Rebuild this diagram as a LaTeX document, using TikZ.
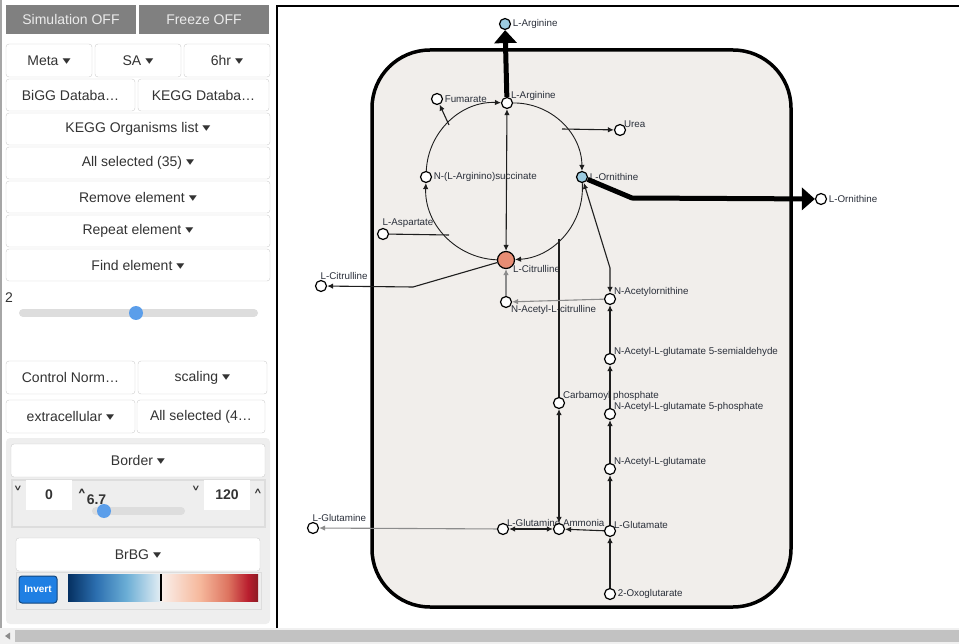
\documentclass[tikz,border=0pt]{standalone}
\usepackage{graphicx}
\usepackage{fontspec}
\setmainfont{Liberation Sans}
\newfontfamily\glyphfont{DejaVu Sans}
\usetikzlibrary{shapes,arrows.meta}
\definecolor{cellbg}{HTML}{F1EEEB}
\definecolor{btnline}{HTML}{CCCCCC}
\definecolor{btntext}{HTML}{333333}
\definecolor{panelbg}{HTML}{EEEEEE}
\definecolor{track}{HTML}{DDDDDD}
\definecolor{thumb}{HTML}{5B9EEA}
\definecolor{lblue}{HTML}{9CCBE0}
\definecolor{citfill}{HTML}{E88D74}
\definecolor{invblue}{HTML}{1F7FE3}
\definecolor{lbltext}{HTML}{2A2F3A}
\definecolor{edge}{HTML}{1E1E1E}
\definecolor{cba}{HTML}{053061}
\definecolor{cbb}{HTML}{2C6FB0}
\definecolor{cbc}{HTML}{6AADD5}
\definecolor{cbd}{HTML}{E4EEF4}
\definecolor{cbe}{HTML}{FAF0EB}
\definecolor{cbf}{HTML}{F6B89C}
\definecolor{cbg}{HTML}{DD7460}
\definecolor{cbh}{HTML}{B91E2E}
\definecolor{cbi}{HTML}{8C1C24}
\newcommand{\caret}{\hspace{4pt}\raisebox{1pt}{\scalebox{1.15}[0.8]{\glyphfont\fontsize{14}{14}\selectfont ▾}}}
\newcommand{\btnfont}{\fontsize{14}{16}\selectfont}
\newcommand{\chev}[1]{\scalebox{1.6}{\glyphfont\fontsize{12}{12}\selectfont #1}}
\tikzset{
  btn/.style={draw=btnline, fill=white, rounded corners=3pt, text=btntext, font=\btnfont, inner sep=0pt},
  graybtn/.style={fill=black!50, text=white!92!black, font=\btnfont, inner sep=0pt},
  met/.style={circle, draw, line width=1.2pt, fill=white, minimum size=11pt, inner sep=0pt},
  lbl/.style={font=\fontsize{9.8}{11}\selectfont, text=lbltext, inner sep=0.5pt},
  lr/.style={label={[lbl, label distance=1pt]right:#1}},
  lar/.style={label={[lbl, anchor=south west, xshift=-1pt, yshift=-3pt]north east:#1}},
  lbr/.style={label={[lbl, anchor=north west, yshift=2pt]south east:#1}},
  la/.style={label={[lbl, anchor=south west, xshift=-1pt]north:#1}},
  rx/.style={line width=1.1pt, draw=edge},
  cyc/.style={line width=0.9pt, draw=edge},
  faint/.style={line width=1.1pt, draw=black!45},
  bigarr/.style={line width=5pt, -{Triangle[length=13pt,width=22pt]}}
}
\begin{document}
\begin{tikzpicture}[x=1pt, y=-1pt, >={Latex[length=6pt,width=5.5pt]}]
\useasboundingbox (0,0) rectangle (959,644);
\fill[black!35] (0,0) rectangle (1.5,628);
\node[graybtn, minimum width=130, minimum height=29] (sim) at (71,19.5) {Simulation OFF};
\node[graybtn, minimum width=130, minimum height=29] (frz) at (204,19.5) {Freeze OFF};
\node[btn, minimum width=86, minimum height=33] (meta) at (49,60.5) {Meta\caret};
\node[btn, minimum width=86, minimum height=33] (sa) at (138,60.5) {SA\caret};
\node[btn, minimum width=86, minimum height=33] (hr) at (227,60.5) {6hr\caret};
\node[btn, minimum width=129, minimum height=32] (bigg) at (70.5,95) {BiGG Databa…};
\node[btn, minimum width=131, minimum height=32] (kegg) at (203.5,95) {KEGG Databa…};
\node[btn, minimum width=264, minimum height=32] (org) at (138,129) {KEGG Organisms list\caret};
\node[btn, minimum width=264, minimum height=32] (sel) at (138,163) {All selected (35)\caret};
\node[btn, minimum width=264, minimum height=32] (rem) at (138,197) {Remove element\caret};
\node[btn, minimum width=264, minimum height=32] (rep) at (138,231) {Repeat element\caret};
\node[btn, minimum width=264, minimum height=32] (find) at (138,265) {Find element\caret};
\node[font=\btnfont, text=btntext, inner sep=0pt] (lvl) at (9,298) {2};
\draw[track, line width=8pt, line cap=round] (23,313) -- (254,313);
\fill[thumb] (136,313) circle (7pt);
\node[btn, minimum width=129, minimum height=33] (ctrl) at (70.5,377.5) {Control Norm…};
\node[btn, minimum width=129, minimum height=33] (scal) at (202.5,377.5) {scaling\caret};
\node[btn, minimum width=129, minimum height=33] (extra) at (70.5,416.5) {extracellular\caret};
\node[btn, minimum width=128, minimum height=33] (sel2) at (201,416.5) {All selected (4…};
\fill[panelbg, rounded corners=4pt] (6,438) rectangle (270,624);
\node[btn, minimum width=254, minimum height=33] (border) at (138,460.5) {Border\caret};
\draw[draw=track, fill=panelbg, line width=1.5pt] (12,480) rectangle (265,527);
\node[fill=white, minimum width=46, minimum height=30, inner sep=0pt, font=\btnfont\bfseries, text=btntext] (lo) at (49,495) {0};
\node[fill=white, minimum width=46, minimum height=30, inner sep=0pt, font=\btnfont\bfseries, text=btntext] (hi) at (227,495) {120};
\node[text=btntext, inner sep=0pt] (lodn) at (18,494) {\chev{˅}};
\node[text=btntext, inner sep=0pt] (hidn) at (196,494) {\chev{˅}};
\node[text=btntext, inner sep=0pt] (hiup) at (258,497) {\chev{˄}};
\node[font=\btnfont\bfseries, text=btntext, anchor=west, inner sep=0pt] (val) at (77,497) {\chev{˄}6.7};
\draw[track, line width=8pt, line cap=round] (96,511) -- (181,511);
\fill[thumb] (104,511) circle (7pt);
\node[btn, minimum width=244, minimum height=33] (brbg) at (138,554.5) {BrBG\caret};
\draw[draw=track, fill=panelbg, line width=1pt] (16,572) rectangle (261,609);
\node[fill=invblue, draw=invblue!55!black, line width=1pt, rounded corners=3pt, text=white, font=\fontsize{10}{12}\selectfont\bfseries, minimum width=38, minimum height=27, inner sep=0pt] (inv) at (38,589.5) {Invert};
\shade[left color=cba, right color=cbb] (68,574) rectangle (96,601);
\shade[left color=cbb, right color=cbc] (96,574) rectangle (126,601);
\shade[left color=cbc, right color=cbd] (126,574) rectangle (161,601);
\shade[left color=cbe, right color=cbf] (161,574) rectangle (200,601);
\shade[left color=cbf, right color=cbg] (200,574) rectangle (228,601);
\shade[left color=cbg, right color=cbh] (228,574) rectangle (248,601);
\shade[left color=cbh, right color=cbi] (248,574) rectangle (258,601);
\draw[line width=2pt] (161,574) -- (161,601);
\fill[black!6] (0,628) rectangle (959,644);
\fill[black!24] (15,630) rectangle (959,642);
\fill[black!45] (5,636) -- (10,632.5) -- (10,639.5) -- cycle;
\draw[line width=2.5pt] (277,628) -- (277,6) -- (959,6);
\draw[line width=3.5pt, fill=cellbg, rounded corners=58pt] (372,50) rectangle (791,607);
\node[met, fill=lblue, lr=L-Arginine] (argE) at (505,24) {};
\node[met, lar=L-Arginine] (arg) at (507,103) {};
\node[met, lr=Fumarate] (fum) at (437,99) {};
\node[met, lar=Urea] (urea) at (620,130) {};
\node[met, lr=N-(L-Arginino)succinate] (suc) at (426,177) {};
\node[met, fill=lblue, lr=L-Ornithine] (orn) at (582,177) {};
\node[met, lr=L-Ornithine] (ornE) at (821,199) {};
\node[met, la=L-Aspartate] (asp) at (383,234) {};
\node[met, fill=citfill, minimum size=17pt, lbr=L-Citrulline] (cit) at (506,260) {};
\node[met, la=L-Citrulline] (citE) at (321,286) {};
\node[met, lbr=N-Acetyl-L-citrulline] (acit) at (506,302) {};
\node[met, lar=N-Acetylornithine] (aorn) at (610,299) {};
\node[met, lar=N-Acetyl-L-glutamate 5-semialdehyde] (semi) at (610,359) {};
\node[met, lar=Carbamoyl phosphate] (carb) at (559,403) {};
\node[met, lar=N-Acetyl-L-glutamate 5-phosphate] (phos) at (610,414) {};
\node[met, lar=N-Acetyl-L-glutamate] (nag) at (610,469) {};
\node[met, la=L-Glutamine] (glnE) at (313,528) {};
\node[met, lar=L-Glutamine] (gln) at (503,529) {};
\node[met, lar=Ammonia] (nh3) at (559,529) {};
\node[met, lar=L-Glutamate] (glu) at (610,531) {};
\node[met, lr=2-Oxoglutarate] (oxo) at (610,594) {};
\coordinate (fumj) at (449,125);
\coordinate (ureaj) at (562,129);
\coordinate (aspj) at (449,235);
\coordinate (carbj) at (559,239);
\coordinate (citbend) at (413,287);
\coordinate (ornbend) at (632,198);
\coordinate (aornbend) at (610,268);
\draw[cyc,->] (cit) to[bend left=45] (suc);
\draw[cyc,->] (suc) to[bend left=45] (arg);
\draw[cyc,->] (arg) to[bend left=45] (orn);
\draw[cyc,->] (orn) to[bend left=45] (cit);
\draw[bigarr] (arg) -- (argE);
\draw[bigarr] (orn) -- (ornbend) -- (ornE);
\draw[rx,<->] (cit) -- (arg);
\draw[rx,->] (fumj) -- (fum);
\draw[rx,->] (ureaj) -- (urea);
\draw[rx] (asp) -- (aspj);
\draw[rx,->] (cit) -- (citbend) -- (citE);
\draw[rx] (carbj) -- (carb);
\draw[rx,<->] (carb) -- (nh3);
\draw[rx,<->] (orn) -- (aornbend) -- (aorn);
\draw[faint,->] (aorn) -- (acit);
\draw[faint,->] (acit) -- (cit);
\draw[rx,->] (semi) -- (aorn);
\draw[rx,->] (phos) -- (semi);
\draw[rx,->] (nag) -- (phos);
\draw[rx,->] (glu) -- (nag);
\draw[rx,->] (oxo) -- (glu);
\draw[rx,->] (glu) -- (nh3);
\draw[rx,<->] (gln) -- (nh3);
\draw[faint,->] (gln) -- (glnE);
\end{tikzpicture}
\end{document}
